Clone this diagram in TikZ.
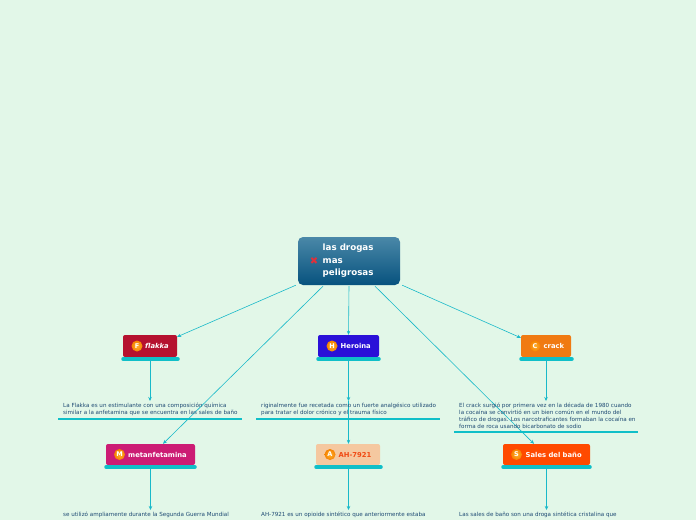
\documentclass[tikz,border=0pt]{standalone}
\usepackage{fontspec}
\setmainfont{DejaVu Sans}
\usetikzlibrary{calc,arrows.meta}
\definecolor{bg}{HTML}{E2F7E8}
\definecolor{conn}{HTML}{19B9C9}
\definecolor{bar}{HTML}{10BFC8}
\definecolor{txt}{HTML}{1E4A73}
\definecolor{cTop}{HTML}{4A88A8}
\definecolor{cBot}{HTML}{07527E}
\definecolor{cFl}{HTML}{B5112F}
\definecolor{cHe}{HTML}{2A10D8}
\definecolor{cCr}{HTML}{F07A12}
\definecolor{cMe}{HTML}{CC1C74}
\definecolor{cAh}{HTML}{F5C8A0}
\definecolor{cAhT}{HTML}{F04A14}
\definecolor{cSa}{HTML}{FF4A00}
\definecolor{icoA}{HTML}{FFB030}
\definecolor{icoB}{HTML}{F58200}
\definecolor{xred}{HTML}{E0303A}
\tikzset{
  conn/.style={draw=conn, line width=0.6pt, -{Stealth[length=4pt,width=3.5pt]}},
  topic/.style={rounded corners=2pt, minimum height=22pt, inner sep=0pt},
  barline/.style={draw=bar, line width=3.5pt, line cap=round},
  uline/.style={draw=bar, line width=1.6pt},
  icon/.style={circle, minimum size=11pt, inner sep=0pt, inner color=icoA, outer color=icoB, text=white, font=\fontsize{6.5}{6.5}\selectfont\bfseries},
  lab/.style={anchor=west, inner sep=0pt, text=white, font=\fontsize{6.8}{7}\selectfont\bfseries},
  note/.style={anchor=north west, inner sep=0pt, align=left, text=txt, font=\fontsize{5.6}{7}\selectfont},
}
\begin{document}
\begin{tikzpicture}[x=1pt,y=-1pt]
\useasboundingbox (0,0) rectangle (696,520);
\fill[bg] (0,0) rectangle (696,520);

% central topic
\node[rounded corners=5pt, top color=cTop, bottom color=cBot, minimum width=102pt, minimum height=48pt, inner sep=0pt] (c) at (349,261) {};
\node[anchor=west, inner sep=0pt, align=left, text=white, font=\fontsize{8.7}{12.5}\selectfont\bfseries] (ct) at (322.5,261) {las drogas\\mas\\peligrosas};
\node[inner sep=0pt, text=xred, font=\fontsize{10}{10}\selectfont\bfseries] (cx) at (314,261) {✖};

% topics row 1
\node[topic, fill=cFl, minimum width=54pt] (fl) at (150,346) {};
\node[topic, fill=cHe, minimum width=61pt] (he) at (348.5,346) {};
\node[topic, fill=cCr, minimum width=50pt] (cr) at (546,346) {};
% topics row 2
\node[topic, fill=cMe, minimum width=89pt, minimum height=21pt] (me) at (150.5,454.5) {};
\node[topic, fill=cAh, minimum width=64pt, minimum height=21pt] (ah) at (348,454.5) {};
\node[topic, fill=cSa, minimum width=87pt, minimum height=21pt] (sa) at (546.5,454.5) {};

% bars
\draw[barline] (123,359) -- (178,359);
\coordinate (flbc) at (150,360);
\draw[barline] (318,359) -- (379,359);
\coordinate (hebc) at (348.5,360);
\coordinate (hetp) at (348.5,401);
\draw[barline] (521,359) -- (572,359);
\coordinate (crbc) at (546,360);
\draw[barline] (106,467) -- (195,467);
\coordinate (mebc) at (150.5,468);
\draw[barline] (316,467) -- (381,467);
\coordinate (ahbc) at (348.5,468);
\draw[barline] (503,467) -- (590,467);
\coordinate (sabc) at (546.5,468);

% icons and labels
\node[icon] (fli) at (137,346) {F};
\node[lab, font=\fontsize{6.8}{7}\selectfont\bfseries\itshape] (fll) at (145,346.3) {flakka};
\node[icon] (hei) at (332,346) {H};
\node[lab] (hel) at (340.5,346.3) {Heroina};
\node[icon] (cri) at (535,346) {C};
\node[lab] (crl) at (543.5,346.3) {crack};
\node[icon] (mei) at (119.5,454.5) {M};
\node[lab] (mel) at (128,454.8) {metanfetamina};
\node[icon] (ahi) at (330,454.5) {A};
\node[lab, text=cAhT] (ahl) at (338.5,454.8) {AH-7921};
\node[icon] (sai) at (516.5,454.5) {S};
\node[lab] (sal) at (525.5,454.8) {Sales del baño};

% connectors to notes (drawn below the notes)
\draw[conn] (flbc) -- (flbc |- 0,401);
\draw[conn] (hebc) -- (hetp);
\draw[conn] (hetp) -- (hetp |- ah.north);
\draw[conn] (crbc) -- (crbc |- 0,401);
\draw[conn] (mebc) -- (mebc |- 0,510);
\draw[conn] (ahbc) -- (ahbc |- 0,510);
\draw[conn] (sabc) -- (sabc |- 0,510);

% connectors from central topic
\draw[conn] ($(c.south west)+(-2,0)$) -- ($(fl.north east)+(0,2)$);
\draw[conn] ($(c.south)+(-26,1)$) -- ($(me.north)+(12.5,0)$);
\draw[conn] ($(c.south)+(0,1)$) -- (he.north);
\draw[conn] ($(c.south)+(26,1)$) -- ($(sa.north)+(-12.5,0)$);
\draw[conn] ($(c.south east)+(2,0)$) -- ($(cr.north west)+(0,3)$);

% notes
\node[note] (ft) at (63,403) {La Flakka es un estimulante con una composición química\\similar a la anfetamina que se encuentra en las sales de baño};
\node[note] (ht) at (261,403) {riginalmente fue recetada como un fuerte analgésico utilizado\\para tratar el dolor crónico y el trauma físico};
\node[note] (crt) at (459,403) {El crack surgió por primera vez en la década de 1980 cuando\\la cocaína se convirtió en un bien común en el mundo del\\tráfico de drogas. Los narcotraficantes formaban la cocaína en\\forma de roca usando bicarbonato de sodio};
\node[note] (mt) at (63,512) {se utilizó ampliamente durante la Segunda Guerra Mundial};
\node[note] (at) at (261,512) {AH-7921 es un opioide sintético que anteriormente estaba};
\node[note] (st) at (459,512) {Las sales de baño son una droga sintética cristalina que};

\draw[uline] (58,419) -- (242,419);
\draw[uline] (256,419) -- (440,419);
\draw[uline] (454,432) -- (638,432);
\end{tikzpicture}
\end{document}
